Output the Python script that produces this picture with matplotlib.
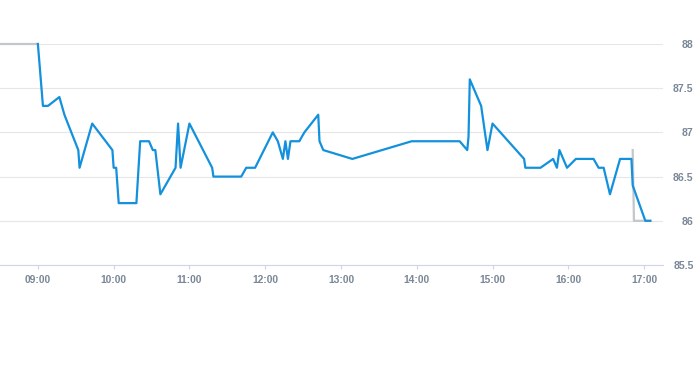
import matplotlib
matplotlib.use("Agg")
import matplotlib.pyplot as plt

# Blue price series
times = ["09:00", "09:04", "09:08", "09:17", "09:21", "09:32", "09:33", "09:43",
         "09:59", "10:00", "10:02", "10:04", "10:18", "10:21", "10:28", "10:31",
         "10:33", "10:37", "10:49", "10:51", "10:53", "11:00", "11:18", "11:19",
         "11:41", "11:45", "11:52", "12:06", "12:10", "12:12", "12:14", "12:16",
         "12:18", "12:20", "12:27", "12:31", "12:42", "12:43", "12:46", "13:09",
         "13:56", "14:34", "14:40", "14:41", "14:42", "14:51", "14:56", "15:00",
         "15:25", "15:26", "15:38", "15:48", "15:51", "15:53", "15:59", "16:06",
         "16:20", "16:24", "16:28", "16:33", "16:41", "16:50", "16:51", "17:01",
         "17:05"]
values = [88.0, 87.3, 87.3, 87.4, 87.2, 86.8, 86.6, 87.1,
          86.8, 86.6, 86.6, 86.2, 86.2, 86.9, 86.9, 86.8,
          86.8, 86.3, 86.6, 87.1, 86.6, 87.1, 86.6, 86.5,
          86.5, 86.6, 86.6, 87.0, 86.9, 86.8, 86.7, 86.9,
          86.7, 86.9, 86.9, 87.0, 87.2, 86.9, 86.8, 86.7,
          86.9, 86.9, 86.8, 86.95, 87.6, 87.3, 86.8, 87.1,
          86.7, 86.6, 86.6, 86.7, 86.6, 86.8, 86.6, 86.7,
          86.7, 86.6, 86.6, 86.3, 86.7, 86.7, 86.4, 86.0,
          86.0]

# Gray reference series (visible parts)
ref_times = ["08:30", "09:00", None, "16:51", "16:52", "17:05"]
ref_values = [88.0, 88.0, None, 86.8, 86.0, 86.0]

x_ticks = ["09:00", "10:00", "11:00", "12:00", "13:00", "14:00", "15:00", "16:00", "17:00"]
y_ticks = [85.5, 86, 86.5, 87, 87.5, 88]
y_tick_labels = ["85.5", "86", "86.5", "87", "87.5", "88"]
x_range = ["08:30", "17:15"]


def to_h(t):
    if t is None:
        return float("nan")
    h, m = t.split(":")
    return int(h) + int(m) / 60.0


plt.rcParams['font.family'] = ['Liberation Sans', 'DejaVu Sans']

W, H = 693, 365
fig = plt.figure(figsize=(W / 100, H / 100), dpi=100)
ax = fig.add_axes([0, (H - 265) / H, 663 / W, 221 / H])

gx = [to_h(t) for t in ref_times]
gy = [float("nan") if v is None else v for v in ref_values]
ax.plot(gx, gy, color="#c3c7cc", lw=1.6, clip_on=False, zorder=2,
        solid_joinstyle="miter")
ax.plot([to_h(t) for t in times], values, color="#1391dc", lw=1.6,
        clip_on=False, zorder=3, solid_joinstyle="round")

ax.set_xlim(to_h(x_range[0]), to_h(x_range[1]))
ax.set_ylim(85.5, 88)

ax.set_xticks([to_h(t) for t in x_ticks])
ax.set_xticklabels(x_ticks)
ax.set_yticks(y_ticks)
ax.set_yticklabels(y_tick_labels)

ax.yaxis.tick_right()
ax.tick_params(axis="y", length=0, pad=22, labelsize=7.6, labelcolor="#7a8796")
for lab in ax.get_yticklabels():
    lab.set_horizontalalignment("right")
ax.tick_params(axis="x", length=3, width=0.8, color="#ccd6eb", pad=4.5,
               labelsize=7.4, labelcolor="#7a8796")
for lab in ax.get_xticklabels() + ax.get_yticklabels():
    lab.set_fontweight("bold")

ax.grid(axis="y", color="#e6e6e6", lw=0.8)
ax.set_axisbelow(True)
for s in ["top", "left", "right"]:
    ax.spines[s].set_visible(False)
ax.spines["bottom"].set_color("#ccd6eb")
ax.spines["bottom"].set_linewidth(0.8)

fig.savefig("out.png", dpi=100)
